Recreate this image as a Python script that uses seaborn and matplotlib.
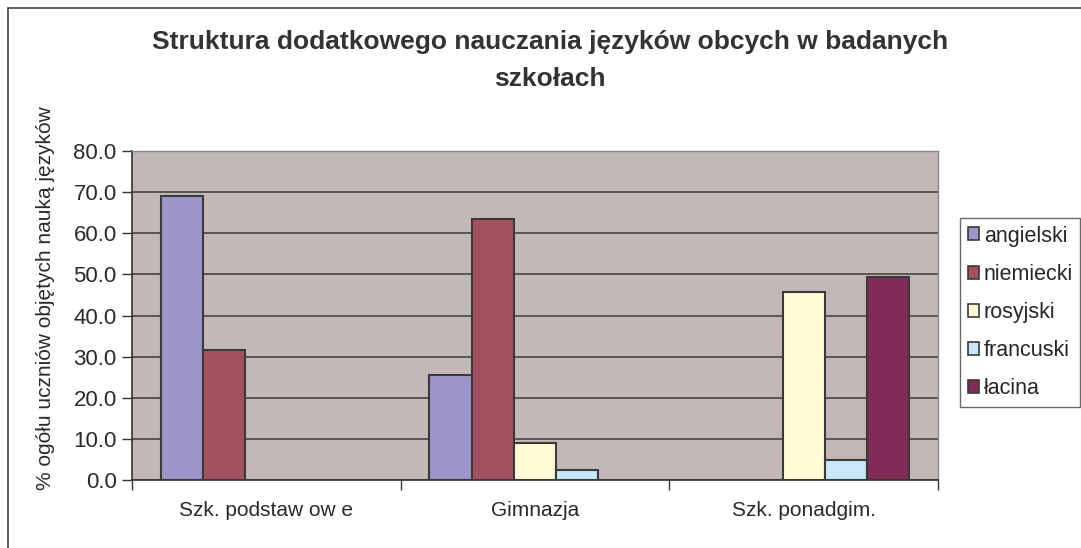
import numpy as np
import pandas as pd
import matplotlib
matplotlib.use("Agg")
import matplotlib.pyplot as plt
import seaborn as sns
from matplotlib.patches import Rectangle

# Data
schools = ["Szk. podstaw ow e", "Gimnazja", "Szk. ponadgim."]
languages = ["angielski", "niemiecki", "rosyjski", "francuski", "łacina"]
angielski = [69.0, 25.5, 0.0]
niemiecki = [31.5, 63.5, 0.0]
rosyjski = [0.0, 9.0, 45.8]
francuski = [0.0, 2.5, 4.9]
lacina = [0.0, 0.0, 49.4]

colors = ["#9B95C9", "#A5505F", "#FFFBD6", "#C6E8F8", "#822B56"]

series = {"angielski": angielski, "niemiecki": niemiecki, "rosyjski": rosyjski,
          "francuski": francuski, "łacina": lacina}
rows = []
for lang in languages:
    for school, val in zip(schools, series[lang]):
        rows.append({"szkola": school, "jezyk": lang, "procent": val})
df = pd.DataFrame(rows)

sns.set_style("white")
plt.rcParams['font.family'] = ['Liberation Sans', 'DejaVu Sans']

fig = plt.figure(figsize=(10.81, 5.48), dpi=100)
ax = fig.add_axes([132 / 1081, 1 - 480 / 548, (938 - 132) / 1081, (480 - 151) / 548])
ax.set_facecolor("#C2B9B6")

sns.barplot(data=df, x="szkola", y="procent", hue="jezyk", hue_order=languages,
            order=schools, palette=colors, width=0.787, edgecolor="#3A3A3A",
            linewidth=1.5, saturation=1, ax=ax, zorder=3)

ax.set_ylim(0, 80)
ax.set_xlim(-0.5, 2.5)
ax.set_yticks(np.arange(0, 81, 10))
ax.set_yticklabels([f"{v:.1f}" for v in np.arange(0, 81, 10)], fontsize=16, color="#2A2A2A")
ax.yaxis.grid(True, color="#3C3C3C", linewidth=1.1, zorder=1)
ax.set_axisbelow(True)
ax.tick_params(axis="y", length=7, width=1, color="#333333", pad=4, left=True)

# category ticks between groups, like a spreadsheet chart
ax.set_xticks([-0.5, 0.5, 1.5, 2.5], minor=True)
ax.tick_params(axis="x", which="minor", length=7, width=1, color="#333333", bottom=True)
ax.tick_params(axis="x", which="major", length=0, pad=15, labelsize=15, labelcolor="#2A2A2A")

for side in ["top", "right"]:
    ax.spines[side].set_color("#8A8A8A")
    ax.spines[side].set_linewidth(1)
for side in ["left", "bottom"]:
    ax.spines[side].set_color("#333333")
    ax.spines[side].set_linewidth(1.2)

ax.set_xlabel("")
ax.set_ylabel("")
fig.text(46 / 1081, 1 - 298 / 548, "% ogółu uczniów objętych nauką języków", rotation=90,
         ha="center", va="center", fontsize=15, color="#2A2A2A")

leg = ax.legend(loc="upper left", bbox_to_anchor=(960 / 1081, 1 - 218 / 548),
                bbox_transform=fig.transFigure, frameon=True, fancybox=False,
                fontsize=15.5, handlelength=0.55, handleheight=0.55, handletextpad=0.2,
                labelspacing=0.8, borderpad=0.35, borderaxespad=0)
leg.get_frame().set_edgecolor("#444444")
leg.get_frame().set_linewidth(1)
for h in leg.legend_handles:
    h.set_edgecolor("#3A3A3A")
    h.set_linewidth(1.2)

fig.text(550 / 1081, 1 - 42 / 548, "Struktura dodatkowego nauczania języków obcych w badanych",
         ha="center", va="center", fontsize=19, fontweight="bold", color="#333333")
fig.text(550 / 1081, 1 - 79 / 548, "szkołach",
         ha="center", va="center", fontsize=19, fontweight="bold", color="#333333")

# outer chart border
fig.patches.append(Rectangle((8 / 1081, -0.1), 1.2, 1 - 8 / 548 + 0.1, transform=fig.transFigure,
                             fill=False, edgecolor="#444444", linewidth=1.2))

fig.savefig("out.png", dpi=100)
